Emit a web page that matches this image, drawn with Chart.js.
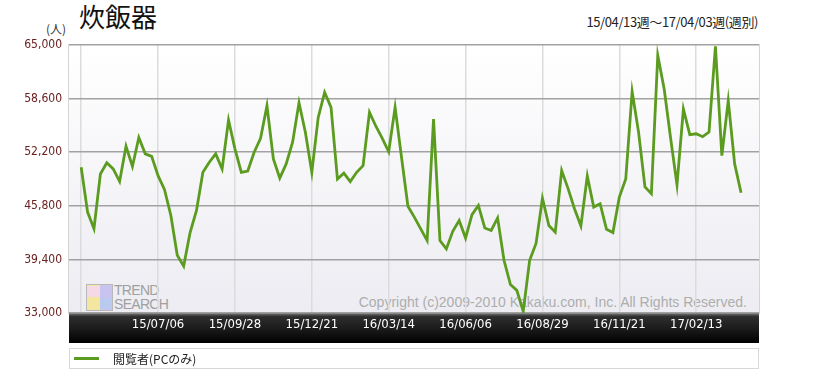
<!DOCTYPE html>
<html>
<head>
<meta charset="utf-8">
<script src="https://cdn.jsdelivr.net/npm/chart.js@4/dist/chart.umd.min.js"></script>
<style>
body { margin: 0; width: 828px; height: 370px; overflow: hidden; position: relative; background: #fff; font-family: 'Noto Sans CJK JP', sans-serif; }
#title { position: absolute; left: 79px; top: 1px; font-size: 26px; line-height: 30px; color: #111; }
#unit { position: absolute; left: 46px; top: 21px; font-size: 12px; line-height: 16px; color: #333; }
#period { position: absolute; right: 70px; top: 13px; font-size: 13px; line-height: 18px; color: #222; letter-spacing: -0.4px; }
#plotBg { position: absolute; left: 69px; top: 45px; width: 690px; height: 268px; background: linear-gradient(#ffffff, #ececf2); box-shadow: 0 0 0 1px #d4d4d4; }
#logo { position: absolute; left: 86px; top: 283px; height: 28px; }
#logo .icon { position: absolute; left: 0; top: 1px; width: 25px; height: 25px; border: 1px solid #b8b8b8; background: linear-gradient(90deg, #f3e7a0 50%, #c9c3ef 50%); }
#logo .icon i { position: absolute; width: 11px; height: 11px; }
#logo span { position: absolute; left: 28px; top: 0; font-family: 'Liberation Sans', Arial, sans-serif; font-size: 14px; line-height: 14px; color: #a0a0a0; letter-spacing: -0.7px; }
#copy { position: absolute; right: 81px; top: 294px; font-family: 'Liberation Sans', Arial, sans-serif; font-size: 14px; line-height: 17px; color: #adadad; white-space: nowrap; }
#band { position: absolute; left: 69px; top: 313px; width: 690px; height: 30px; background: linear-gradient(#7a7a7a 0, #2e2e2e 12%, #1a1a1a 55%, #000 100%); }
#trendChart { position: absolute; left: 0; top: 0; }
#legend { position: absolute; left: 69px; top: 348px; width: 688px; height: 19px; border: 1px solid #d8d8d8; font-size: 12px; line-height: 19px; color: #222; }
#legend .swatch { position: absolute; left: 4px; top: 8px; width: 25px; height: 3px; background: #5b9b1f; }
#legend .txt { position: absolute; left: 43px; top: 0; }
</style>
</head>
<body>
<div id="title">炊飯器</div>
<div id="unit">(人)</div>
<div id="period">15/04/13週～17/04/03週(週別)</div>
<div id="plotBg"></div>
<div id="logo">
  <div class="icon">
    <i style="left:1px;top:1px;background:#f6d9e6"></i>
    <i style="left:13px;top:13px;background:#b9c9f0"></i>
  </div>
  <span>TREND<br>SEARCH</span>
</div>
<div id="copy">Copyright (c)2009-2010 Kakaku.com, Inc. All Rights Reserved.</div>
<div id="band"></div>
<canvas id="trendChart" width="828" height="370"></canvas>
<div id="legend"><span class="swatch"></span><span class="txt">閲覧者(PCのみ)</span></div>

<script>
// weekly visitors, 15/04/13 ... 17/04/03
const visitors = [
    50400, 45050, 43060, 49600, 50930, 50200, 48700, 52900, 50500, 53950,
    52000, 51700, 49400, 47750, 44650, 39900, 38600, 42600, 45250, 49800,
    51000, 52000, 50200, 56050, 52600, 49800, 49950, 52200, 53850, 57750,
    51400, 49100, 50800, 53400, 58100, 54550, 49800, 56350, 59350, 57550,
    49000, 49700, 48700, 49800, 50600, 56950, 55300, 53850, 52250, 57550,
    51600, 45750, 44450, 43050, 41650, 56150, 41650, 40650, 42750, 44050,
    41950, 44750, 45850, 43150, 42850, 44350, 39300, 36400, 35700, 33200,
    39300, 41300, 46700, 43450, 42650, 50000, 47850, 45450, 43400, 49350,
    45650, 46050, 43000, 42600, 46850, 49000, 59450, 54600, 48050, 47250,
    63750, 59750, 53900, 48300, 57350, 54300, 54400, 54050, 54600, 64850,
    51800, 58350, 50800, 47350
];
const gridWeeks = [0, 12, 24, 36, 48, 60, 72, 84, 96];
const tickWeeks = [12, 24, 36, 48, 60, 72, 84, 96];
const tickLabels = ['15/07/06', '15/09/28', '15/12/21', '16/03/14', '16/06/06', '16/08/29', '16/11/21', '17/02/13'];
const yTicks = [33000, 39400, 45800, 52200, 58600, 65000];

const narrowFont = "'Liberation Sans Narrow', 'DejaVu Sans Condensed', sans-serif";

const ctx = document.getElementById('trendChart').getContext('2d');
let myChart = new Chart(ctx, {
    type: 'line',
    data: {
        datasets: [{
            label: '閲覧者(PCのみ)',
            data: visitors.map((v, i) => ({ x: i, y: v })),
            borderColor: '#5b9b1f',
            borderWidth: 2.8,
            pointRadius: 0,
            tension: 0
        }]
    },
    options: {
        responsive: false,
        animation: false,
        layout: { padding: { top: 45, right: 69, left: 0, bottom: 0 } },
        plugins: { legend: { display: false }, tooltip: { enabled: false } },
        scales: {
            x: {
                type: 'linear',
                min: -1.9,
                max: 105.8,
                afterBuildTicks: s => { s.ticks = gridWeeks.map(v => ({ value: v })); },
                afterFit: s => { s.height = 57; },
                grid: { color: '#dcdcdc', lineWidth: 1.5, drawTicks: false },
                border: { display: false },
                ticks: {
                    color: '#ffffff',
                    padding: 4,
                    maxRotation: 0,
                    autoSkip: false,
                    font: { family: narrowFont, size: 13 },
                    callback: v => {
                        const k = tickWeeks.indexOf(v);
                        return k < 0 ? '' : tickLabels[k];
                    }
                }
            },
            y: {
                min: 33000,
                max: 65000,
                afterBuildTicks: s => { s.ticks = yTicks.map(v => ({ value: v })); },
                afterFit: s => { s.width = 69; },
                grid: { color: '#a2a2a2', lineWidth: 1.5, drawTicks: false },
                border: { display: false },
                ticks: {
                    color: '#6b2020',
                    padding: 7,
                    font: { family: narrowFont, size: 12 },
                    callback: v => v.toLocaleString('en-US')
                }
            }
        }
    }
});
</script>
</body>
</html>
